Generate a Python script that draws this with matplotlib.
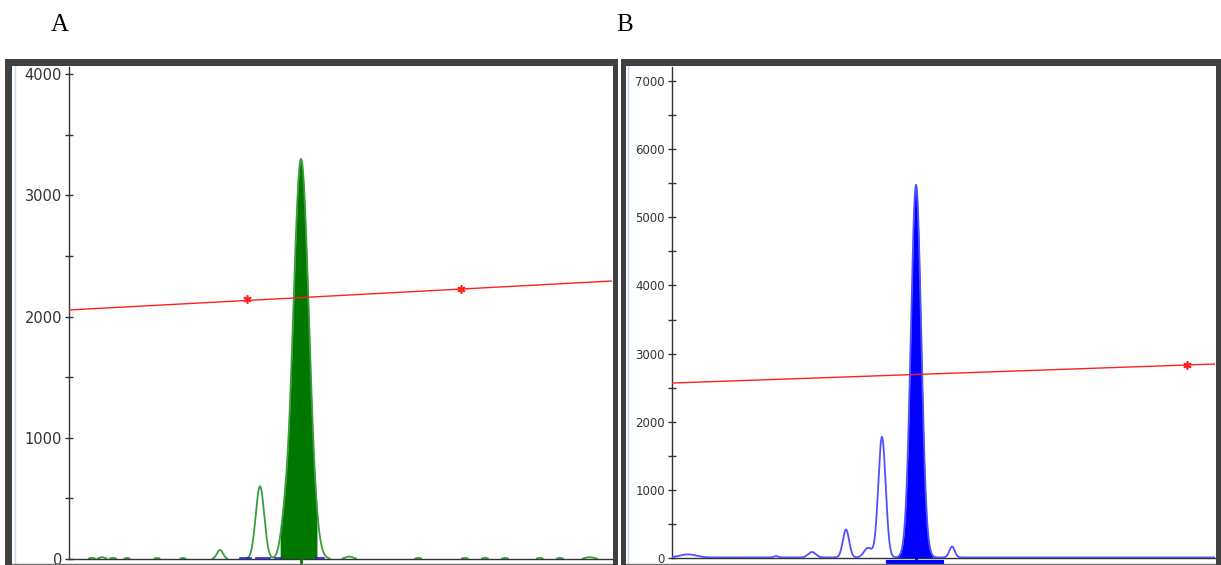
import numpy as np
import matplotlib.pyplot as plt
from matplotlib.patches import Rectangle
from matplotlib.ticker import MultipleLocator

W, H = 1221, 565

# retention axis is arbitrary (0..100), peaks read off the picture
# panel A - green trace
a_centers = [42.73, 35.17, 27.80, 39.60, 51.60,
             4.2, 6.1, 8.1, 10.7, 16.2, 21.0,
             64.3, 72.9, 76.6, 80.3, 86.7, 90.4, 95.9]
a_heights = [3300, 600, 75, 150, 20,
             10, 15, 10, 8, 8, 8,
             10, 10, 10, 10, 10, 10, 15]
a_widths = [1.45, 0.78, 0.55, 0.70, 0.70,
            0.4, 0.5, 0.4, 0.4, 0.4, 0.4,
            0.4, 0.4, 0.4, 0.4, 0.4, 0.4, 0.8]
a_fill = (38.86, 45.67)
a_peak_mark = 42.73
a_calib_x = [0, 100]
a_calib_y = [2054, 2293]
a_std_x = [32.78, 72.19]
a_std_y = [2144, 2227]
a_other_x = [[31.5, 33.5], [34.5, 37.0], [38.0, 39.0], [45.5, 47.0]]   # blue trace bits at baseline
a_ymax = 4058

# panel B - blue trace
b_centers = [44.94, 38.67, 36.10, 32.04, 25.78, 51.57, 2.95, 19.15]
b_heights = [5470, 1770, 140, 410, 80, 160, 45, 20]
b_widths = [0.95, 0.68, 0.75, 0.58, 0.70, 0.50, 1.50, 0.40]
b_base = 8
b_fill = (41.07, 48.07)
b_peak_mark = 44.94
b_bar = (39.78, 49.72)
b_calib_x = [0, 100]
b_calib_y = [2568, 2847]
b_std_x = [94.84]
b_std_y = [2832]
b_ymax = 7206


def trace(x, centers, heights, widths, base=0):
    y = np.full_like(x, base, dtype=float)
    for c, h, w in zip(centers, heights, widths):
        y += h * np.exp(-0.5 * ((x - c) / w) ** 2)
    return y


def px_rect(fig, x0, y0, x1, y1, color):
    fig.add_artist(Rectangle((x0 / W, 1 - y1 / H), (x1 - x0) / W, (y1 - y0) / H,
                             transform=fig.transFigure, color=color, lw=0, zorder=5))


def px_line(fig, xs, ys, **kw):
    fig.add_artist(plt.Line2D([x / W for x in xs], [1 - y / H for y in ys],
                              transform=fig.transFigure, **kw))


def style_axis(ax, ymax, fsize):
    ax.set_xlim(0, 100)
    ax.set_ylim(0, ymax)
    ax.set_xticks([])
    ax.yaxis.set_major_locator(MultipleLocator(1000))
    ax.yaxis.set_minor_locator(MultipleLocator(500))
    ax.tick_params(axis="y", which="both", direction="inout", length=6,
                   width=1, color="#333333", labelcolor="#333333",
                   labelsize=fsize, pad=2)
    for s in ["top", "right"]:
        ax.spines[s].set_visible(False)
    for s in ["left", "bottom"]:
        ax.spines[s].set_color("#333333")
        ax.spines[s].set_linewidth(1)
        ax.spines[s].set_zorder(3.5)


fig = plt.figure(figsize=(W / 100, H / 100), dpi=100)
x = np.linspace(0, 100, 4000)

# ---- panel A
axA = fig.add_axes([69 / W, 1 - 559 / H, (612 - 69) / W, (559 - 67) / H])
ya = trace(x, a_centers, a_heights, a_widths)
m = (x >= a_fill[0]) & (x <= a_fill[1])
axA.fill_between(x[m], 0, ya[m], color="#007800", lw=0, zorder=2)
ya_line = np.where(ya < 4, np.nan, ya)   # flat baseline hides under the axis
axA.plot(x, ya_line, color="#3c9c3c", lw=1.3, zorder=3)
for seg in a_other_x:
    axA.plot(seg, [10, 10], color="#2020e0", lw=1.2, zorder=3.6)
axA.plot(a_calib_x, a_calib_y, color="#ff2020", lw=1, zorder=4)
axA.plot(a_std_x, a_std_y, ls="none", marker=(6, 2, 0), ms=6, mew=1.2,
         color="#ff2020", zorder=4)
axA.plot([a_peak_mark, a_peak_mark], [0, -50], color="#007800", lw=2,
         clip_on=False, zorder=4)
style_axis(axA, a_ymax, 10.5)

# ---- panel B
axB = fig.add_axes([672 / W, 1 - 558 / H, (1215 - 672) / W, (558 - 67) / H])
yb = trace(x, b_centers, b_heights, b_widths, b_base)
m = (x >= b_fill[0]) & (x <= b_fill[1])
axB.fill_between(x[m], 0, yb[m], color="#0000ff", lw=0, zorder=2)
axB.plot(x, yb, color="#5050ff", lw=1.3, zorder=3.6)
axB.plot(b_calib_x, b_calib_y, color="#ff2020", lw=1, zorder=4)
axB.plot(b_std_x, b_std_y, ls="none", marker=(6, 2, 0), ms=6, mew=1.2,
         color="#ff2020", zorder=4)
axB.plot(b_bar, [-60, -60], color="#0000ff", lw=3, clip_on=False, zorder=4)
axB.plot([b_peak_mark, b_peak_mark], [0, -60], color="#0000ff", lw=2,
         clip_on=False, zorder=4)
style_axis(axB, b_ymax, 8.5)

# window frames
frame = "#404040"
px_rect(fig, 5, 59, 617, 66, frame)
px_rect(fig, 5, 59, 12, 566, frame)
px_rect(fig, 613, 59, 618, 566, frame)
px_rect(fig, 621, 59, 1221, 66, frame)
px_rect(fig, 621, 59, 626, 566, frame)
px_rect(fig, 1216, 59, 1221, 566, frame)
px_line(fig, [15, 15], [66, 565], color="#c4d8ee", lw=1)
px_line(fig, [628, 628], [66, 565], color="#c4d8ee", lw=1)
px_line(fig, [12, 613], [563.5, 563.5], color="#707070", lw=1)
px_line(fig, [626, 1216], [563.5, 563.5], color="#707070", lw=1)

fig.text(60 / W, 1 - 25 / H, "A", family="Liberation Serif", size=18,
         ha="center", va="center")
fig.text(625 / W, 1 - 25 / H, "B", family="Liberation Serif", size=18,
         ha="center", va="center")

fig.savefig("out.png", dpi=100)
